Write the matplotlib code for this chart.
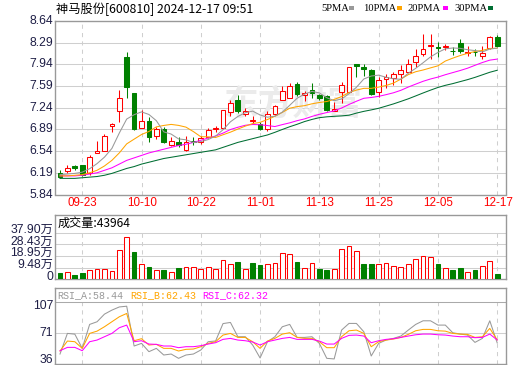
import matplotlib
matplotlib.use("Agg")
import matplotlib.pyplot as plt
import matplotlib.transforms as mtransforms
from matplotlib.patches import Rectangle
import numpy as np
import pandas as pd

# ---------------- data ----------------
dates = ["09-18", "09-19", "09-20", "09-23", "09-24", "09-25", "09-26", "09-27", "09-30",
         "10-08", "10-09", "10-10", "10-11", "10-14", "10-15", "10-16", "10-17", "10-18",
         "10-21", "10-22", "10-23", "10-24", "10-25", "10-28", "10-29", "10-30", "10-31",
         "11-01", "11-04", "11-05", "11-06", "11-07", "11-08", "11-11", "11-12", "11-13",
         "11-14", "11-15", "11-18", "11-19", "11-20", "11-21", "11-22", "11-25", "11-26",
         "11-27", "11-28", "11-29", "12-02", "12-03", "12-04", "12-05", "12-06", "12-09",
         "12-10", "12-11", "12-12", "12-13", "12-16", "12-17"]
date_label_idx = [3, 11, 19, 27, 35, 43, 51, 59]

opens = [6.19, 6.22, 6.30, 6.31, 6.18, 6.51, 6.54, 6.95, 7.19, 8.06,
         7.48, 6.92, 7.02, 6.79, 6.90, 6.63, 6.68, 6.56, 6.70, 6.69,
         6.76, 6.89, 6.92, 7.17, 7.37, 7.14, 7.03, 6.97, 6.89, 7.13,
         7.37, 7.40, 7.62, 7.45, 7.53, 7.45, 7.43, 7.19, 7.50, 7.50,
         7.94, 7.89, 7.85, 7.50, 7.70, 7.72, 7.79, 7.82, 7.97, 8.11,
         8.24, 8.21, 8.22, 8.16, 8.29, 8.12, 8.14, 8.07, 8.20, 8.38]
highs = [6.23, 6.32, 6.31, 6.32, 6.47, 6.70, 6.81, 6.99, 7.52, 8.14,
         7.48, 7.20, 7.09, 6.93, 6.93, 6.77, 6.77, 6.78, 6.76, 6.78,
         6.92, 6.94, 7.21, 7.36, 7.45, 7.24, 7.11, 7.01, 7.19, 7.29,
         7.59, 7.63, 7.66, 7.51, 7.64, 7.46, 7.45, 7.33, 7.65, 7.90,
         7.94, 7.95, 7.86, 7.73, 7.78, 7.81, 7.93, 8.02, 8.18, 8.42,
         8.42, 8.30, 8.27, 8.22, 8.34, 8.23, 8.18, 8.24, 8.39, 8.41]
lows = [6.11, 6.19, 6.23, 6.14, 6.16, 6.51, 6.54, 6.84, 7.01, 7.40,
        6.88, 6.92, 6.69, 6.74, 6.67, 6.62, 6.61, 6.54, 6.64, 6.65,
        6.75, 6.84, 6.90, 7.11, 7.16, 7.11, 6.97, 6.88, 6.87, 7.12,
        7.36, 7.39, 7.43, 7.35, 7.40, 7.36, 7.18, 7.18, 7.31, 7.49,
        7.74, 7.75, 7.44, 7.41, 7.55, 7.60, 7.64, 7.82, 7.89, 8.08,
        8.03, 8.05, 8.17, 8.09, 8.12, 8.08, 8.07, 8.03, 8.18, 8.22]
closes = [6.13, 6.27, 6.27, 6.16, 6.45, 6.54, 6.79, 6.97, 7.40, 7.58,
          6.89, 7.02, 6.76, 6.90, 6.68, 6.71, 6.63, 6.69, 6.68, 6.75,
          6.88, 6.91, 7.20, 7.32, 7.18, 7.18, 7.04, 6.89, 7.14, 7.26,
          7.51, 7.59, 7.46, 7.47, 7.48, 7.39, 7.20, 7.22, 7.61, 7.90,
          7.91, 7.87, 7.46, 7.68, 7.73, 7.78, 7.84, 7.94, 8.08, 8.18,
          8.25, 8.20, 8.23, 8.15, 8.15, 8.14, 8.13, 8.12, 8.38, 8.23]

# moving-average values at the left edge (history not shown)
ma5_head = [6.16, 6.17, 6.18, 6.20]
ma10_head = [6.14, 6.14, 6.15, 6.16, 6.19, 6.23, 6.30, 6.39, 6.51]
ma20_head = [6.14, 6.14, 6.14, 6.15, 6.17, 6.19, 6.23, 6.27, 6.33, 6.39,
             6.43, 6.47, 6.51, 6.54, 6.57, 6.60, 6.63, 6.65, 6.68]
ma30_head = [6.10, 6.10, 6.10, 6.11, 6.12, 6.13, 6.15, 6.18, 6.22, 6.26,
             6.29, 6.33, 6.36, 6.39, 6.42, 6.44, 6.46, 6.48, 6.50, 6.52,
             6.54, 6.56, 6.60, 6.64, 6.68, 6.71, 6.74, 6.77, 6.80]

# volume in 万 (10k lots)
volumes = [5.4, 6.0, 3.8, 5.4, 7.6, 8.4, 8.4, 6.8, 23.5, 34.1,
           22.2, 12.4, 10.0, 7.6, 7.6, 6.0, 9.2, 10.0, 9.7, 8.4,
           10.0, 8.4, 15.7, 12.4, 14.1, 8.4, 13.3, 11.6, 12.4, 13.3,
           21.4, 20.6, 14.1, 9.2, 13.3, 8.4, 7.6, 8.1, 24.6, 27.1,
           23.0, 12.4, 12.4, 12.4, 13.3, 10.8, 9.7, 12.4, 16.5, 18.9,
           18.1, 12.4, 9.2, 7.6, 9.2, 6.0, 7.6, 10.8, 14.9, 4.4]
vol_up = [0, 1, 0, 0, 1, 1, 1, 1, 1, 1,
          0, 1, 0, 1, 0, 1, 0, 1, 1, 1,
          1, 1, 1, 1, 0, 1, 0, 0, 1, 1,
          1, 1, 0, 1, 1, 0, 0, 1, 1, 1,
          1, 0, 0, 1, 1, 1, 1, 1, 1, 1,
          1, 0, 1, 0, 0, 1, 0, 1, 1, 0]
last_volume = "43964"

rsi_a = [43.7, 71.0, 70.0, 51.2, 82.9, 86.4, 96.5, 101.8, 106.0, 107.0,
         54.3, 57.8, 46.8, 51.2, 42.4, 43.7, 38.0, 42.4, 43.7, 49.0,
         60.0, 61.0, 84.0, 85.5, 66.6, 66.6, 55.6, 38.5, 60.0, 66.6,
         79.8, 82.9, 65.7, 65.7, 66.6, 57.8, 38.0, 37.2, 75.4, 84.2,
         84.2, 73.2, 41.1, 57.8, 62.2, 64.4, 67.5, 75.4, 82.9, 87.7,
         87.7, 82.0, 82.0, 71.9, 70.1, 68.8, 59.1, 64.4, 87.7, 58.44]
rsi_b = [47.7, 60.9, 60.0, 51.2, 71.0, 74.0, 79.8, 86.4, 93.0, 97.4,
         61.3, 64.0, 55.6, 56.5, 51.2, 51.2, 47.7, 49.9, 50.3, 53.4,
         57.8, 60.0, 68.8, 71.0, 65.7, 65.7, 60.0, 51.2, 60.9, 64.4,
         70.1, 71.9, 65.7, 64.4, 64.4, 60.0, 52.1, 52.1, 66.6, 74.5,
         75.4, 71.0, 53.4, 60.0, 62.2, 63.5, 65.7, 69.7, 74.5, 76.3,
         76.3, 74.5, 74.0, 71.0, 70.1, 69.7, 65.7, 66.6, 77.6, 62.43]
rsi_c = [48.1, 52.5, 52.5, 48.1, 60.0, 62.2, 66.6, 71.0, 78.5, 82.0,
         60.0, 61.3, 56.9, 56.5, 54.3, 54.3, 52.1, 53.4, 53.4, 54.7,
         56.9, 58.7, 63.1, 64.4, 62.2, 61.3, 59.6, 55.6, 60.0, 62.2,
         64.4, 65.7, 63.1, 63.1, 63.1, 60.9, 56.9, 56.9, 64.4, 68.4,
         68.8, 67.5, 58.7, 61.3, 63.1, 64.0, 65.7, 67.5, 69.2, 70.1,
         70.1, 69.2, 68.8, 67.5, 66.6, 66.6, 65.3, 65.7, 70.1, 62.32]

price_ticks = [5.84, 6.19, 6.54, 6.89, 7.24, 7.59, 7.94, 8.29, 8.64]
vol_ticks = [0, 9.48, 18.95, 28.43, 37.90]
vol_tick_labels = ["0", "9.48万", "18.95万", "28.43万", "37.90万"]
rsi_ticks = [36, 71, 107]

title_text = "神马股份[600810] 2024-12-17 09:51"
ma_names = ["5PMA", "10PMA", "20PMA", "30PMA"]

# ---------------- styling ----------------
RED = "#ff0000"
GREEN = "#008000"
C_MA5 = "#999999"
C_MA10 = "#ffa500"
C_MA20 = "#ff00ff"
C_MA30 = "#006e33"
GRID = "#cfcfcf"
FRAME = "#999999"
LABEL = "#1e1e46"
CJK = ["Noto Sans CJK SC", "DejaVu Sans"]
NUM = ["Liberation Sans", "Noto Sans CJK SC", "DejaVu Sans"]
LW = 0.75

W, H = 520, 365
fig = plt.figure(figsize=(W / 100, H / 100), dpi=100)
fig.patch.set_facecolor("white")


def ax_px(x0, y0, x1, y1):
    return fig.add_axes([x0 / W, 1 - y1 / H, (x1 - x0) / W, (y1 - y0) / H])


def ftext(x, y, s, **kw):
    fig.text(x / W, 1 - y / H, s, **kw)


n = len(closes)
x = np.arange(n)
XL = (-0.675, 60.12)


def style(ax):
    ax.set_xlim(*XL)
    ax.set_xticks([])
    ax.set_yticks([])
    for sp in ax.spines.values():
        sp.set_color(FRAME)
        sp.set_linewidth(1.0)


def moving(vals, k, head):
    s = pd.Series(vals).rolling(k).mean().to_numpy()
    s[:k - 1] = head
    return s


o = np.array(opens); c = np.array(closes)
hi = np.array(highs); lo = np.array(lows)
up = c >= o

# ---------------- main price panel ----------------
ax = ax_px(55, 20.8, 505.5, 194.5)
style(ax)
ax.set_ylim(price_ticks[0], price_ticks[-1])
for v in price_ticks[1:-1]:
    ax.axhline(v, color=GRID, lw=LW, zorder=1)
for i in date_label_idx:
    ax.axvline(i, color=GRID, lw=LW, ls=(0, (4, 4)), zorder=1)

ax.text(0.53, 0.52, "东方财富", transform=ax.transAxes, fontsize=25,
        family=CJK, fontweight="bold", color="#ebebeb", ha="center",
        va="center", zorder=1.5)

cols = np.where(up, RED, GREEN)
faces = np.where(up, "white", GREEN)
ax.vlines(x, lo, hi, colors=cols, lw=LW, zorder=3)
ax.bar(x, np.abs(c - o), bottom=np.minimum(o, c), width=0.64,
       color=faces, edgecolor=cols, linewidth=LW, zorder=4)

ma5 = moving(closes, 5, ma5_head)
ma10 = moving(closes, 10, ma10_head)
ma20 = moving(closes, 20, ma20_head)
ma30 = moving(closes, 30, ma30_head)
for m, col in [(ma30, C_MA30), (ma20, C_MA20), (ma10, C_MA10), (ma5, C_MA5)]:
    ax.plot(x, m, color=col, lw=LW, zorder=5)

tr = mtransforms.blended_transform_factory(fig.transFigure, ax.transData)
for v in price_ticks:
    ax.text(53 / W, v, f"{v:.2f}", transform=tr, ha="right", va="center",
            fontsize=8.7, family=NUM, color=LABEL, clip_on=False)
for i in date_label_idx:
    ftext(60 + (i) * 7.41 + 0.5, 203.5, dates[i], ha="center", va="center",
          fontsize=8.4, family=NUM, color=RED)

# title and legend
ftext(56, 9.5, title_text, ha="left", va="center", fontsize=8.8,
      family=CJK, color="black")
leg_x = [321, 363, 408, 454]
box_x = [349, 396.5, 442.5, 487.5]
for name, lx, bx, col in zip(ma_names, leg_x, box_x, [C_MA5, C_MA10, C_MA20, C_MA30]):
    ftext(lx, 8.5, name, ha="left", va="center", fontsize=7.6,
          family=["Liberation Serif", "DejaVu Serif"], color="black")
    fig.add_artist(Rectangle((bx / W, 1 - 10 / H), 5 / W, 3.5 / H,
                             transform=fig.transFigure, color=col, lw=0))

# ---------------- volume panel ----------------
axv = ax_px(55, 215.3, 505.5, 279.3)
style(axv)
axv.set_ylim(0, 52.0)
for v in vol_ticks[1:]:
    axv.axhline(v, color=GRID, lw=LW, zorder=1)
for i in date_label_idx:
    axv.vlines(i, 0, vol_ticks[-1], color=GRID, lw=LW, ls=(0, (4, 4)), zorder=1)
vu = np.array(vol_up, dtype=bool)
vcols = np.where(vu, RED, GREEN)
vfaces = np.where(vu, "white", GREEN)
axv.bar(x, volumes, width=0.64, color=vfaces, edgecolor=vcols,
        linewidth=LW, zorder=3)
trv = mtransforms.offset_copy(
    mtransforms.blended_transform_factory(fig.transFigure, axv.transData),
    fig=fig, x=0, y=2.7, units="dots")
for v, lab in zip(vol_ticks, vol_tick_labels):
    axv.text(53 / W, v, lab, transform=trv, ha="right", va="center",
             fontsize=8.7, family=NUM, color=LABEL, clip_on=False)
ftext(57.5, 223.5, "成交量:" + last_volume, ha="left", va="center",
      fontsize=8.7, family=CJK, color="black")

# ---------------- RSI panel ----------------
axr = ax_px(55, 288.3, 505.5, 364)
style(axr)
axr.set_ylim(30.5, 130.7)
axr.axhline(112.7, color="#aaaaaa", lw=LW, zorder=2)
axr.axhline(71, color=GRID, lw=LW, zorder=1)
for i in date_label_idx:
    axr.vlines(i, 30.5, 112.7, color=GRID, lw=LW, ls=(0, (4, 4)), zorder=1)
axr.plot(x, rsi_a, color=C_MA5, lw=LW, zorder=3)
axr.plot(x, rsi_b, color=C_MA10, lw=LW, zorder=4)
axr.plot(x, rsi_c, color=C_MA20, lw=LW, zorder=5)
rsi_label_y = {36: 359.7, 71: 333.0, 107: 306.0}
for v in rsi_ticks:
    ftext(53, rsi_label_y[v], str(v), ha="right", va="center",
          fontsize=8.7, family=NUM, color=LABEL)
mono = ["Liberation Mono", "DejaVu Sans Mono"]
ftext(57.5, 295, f"RSI_A:{rsi_a[-1]:.2f}", ha="left", va="center",
      fontsize=7.2, family=mono, color=C_MA5)
ftext(130, 295, f"RSI_B:{rsi_b[-1]:.2f}", ha="left", va="center",
      fontsize=7.2, family=mono, color=C_MA10)
ftext(202.3, 295, f"RSI_C:{rsi_c[-1]:.2f}", ha="left", va="center",
      fontsize=7.2, family=mono, color=C_MA20)

fig.savefig("out.png", dpi=100, facecolor="white")
